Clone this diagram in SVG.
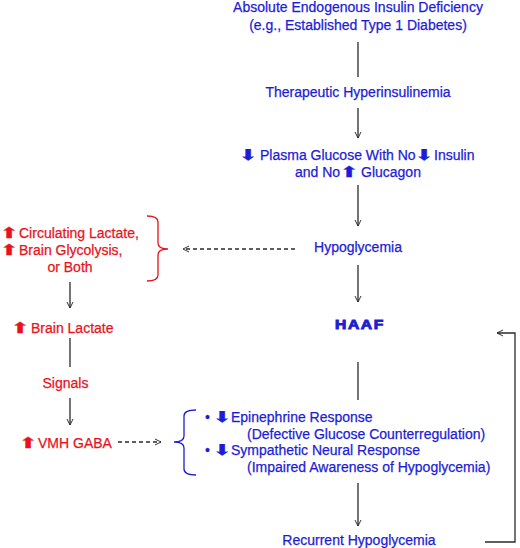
<svg xmlns="http://www.w3.org/2000/svg" width="520" height="548" viewBox="0 0 520 548">
<style>
text{font-family:"Liberation Sans",Arial,sans-serif;font-size:14px}
.b{fill:#1d1dd6;stroke:#1d1dd6;stroke-width:0.25}
.r{fill:#e8121c;stroke:#e8121c;stroke-width:0.25}
.ar{font-family:"DejaVu Sans",sans-serif;font-size:15px;stroke-width:0.4}
.c{text-anchor:middle}
.haaf{font-weight:bold;font-size:12.5px;stroke-width:0.9;letter-spacing:1.3px}
.ln{stroke:#2a2a2a;stroke-width:1.3;fill:none}
.dash{stroke-dasharray:4,3}
.ah{marker-end:url(#arr)}
.brr{stroke:#e8121c;stroke-width:1.3;fill:none}
.brb{stroke:#1d1dd6;stroke-width:1.3;fill:none}
</style>
<defs>
<marker id="arr" viewBox="0 0 10 10" refX="10" refY="5" markerWidth="6" markerHeight="9" markerUnits="userSpaceOnUse" orient="auto">
<path d="M0,0 L10,5 L0,10" fill="none" stroke="#2a2a2a" stroke-width="1.6"/>
</marker>
</defs>
<rect width="520" height="548" fill="#fff"/>
<g id="connectors">
<line class="ln" x1="358" y1="42" x2="358" y2="77"/>
<line class="ln ah" x1="358" y1="108" x2="358" y2="138"/>
<line class="ln ah" x1="358" y1="185" x2="358" y2="226"/>
<line class="ln ah" x1="358" y1="265" x2="358" y2="302"/>
<line class="ln" x1="358" y1="362" x2="358" y2="400"/>
<line class="ln ah" x1="358" y1="483" x2="358" y2="526"/>
<polyline class="ln ah" points="485,542 515,542 515,333 497,333"/>
<line class="ln dash ah" x1="295" y1="249" x2="183" y2="249"/>
<line class="ln dash ah" x1="118" y1="442" x2="161" y2="442"/>
<line class="ln ah" x1="70" y1="282" x2="70" y2="308"/>
<line class="ln" x1="70" y1="338" x2="70" y2="367"/>
<line class="ln ah" x1="70" y1="398" x2="70" y2="425"/>
</g>
<g id="n-absolute">
<text class="b c" x="358" y="11.5">Absolute Endogenous Insulin Deficiency</text>
<text class="b c" x="358" y="30">(e.g., Established Type 1 Diabetes)</text>
</g>
<g id="n-therapeutic">
<text class="b c" x="358" y="97">Therapeutic Hyperinsulinemia</text>
</g>
<g id="n-plasma">
<text class="b ar" transform="translate(239,160) scale(1.45,1)">⬇</text>
<text class="b" x="260" y="160">Plasma Glucose With No</text>
<text class="b ar" transform="translate(415,160) scale(1.45,1)">⬇</text>
<text class="b" x="434" y="160">Insulin</text>
<text class="b" x="295" y="177">and No</text>
<text class="b ar" transform="translate(340,177) scale(1.45,1)">⬆</text>
<text class="b" x="361" y="177">Glucagon</text>
</g>
<g id="n-hypo">
<text class="b c" x="358" y="252">Hypoglycemia</text>
</g>
<g id="n-haaf">
<text class="b haaf" transform="translate(335,329) scale(1.25,1)">HAAF</text>
</g>
<g id="n-responses">
<path class="brb" d="M196,410 Q184,410 184,416 V436 Q184,442 174,442 Q184,442 184,448 V469 Q184,475 196,475"/>
<text class="b" x="205" y="422">•</text>
<text class="b ar" transform="translate(213,422) scale(1.45,1)">⬇</text>
<text class="b" x="231" y="422">Epinephrine Response</text>
<text class="b" x="247" y="438.5">(Defective Glucose Counterregulation)</text>
<text class="b" x="205" y="455">•</text>
<text class="b ar" transform="translate(213,455) scale(1.45,1)">⬇</text>
<text class="b" x="231" y="455">Sympathetic Neural Response</text>
<text class="b" x="247" y="472">(Impaired Awareness of Hypoglycemia)</text>
</g>
<g id="n-recurrent">
<text class="b c" x="359" y="545">Recurrent Hypoglycemia</text>
</g>
<g id="n-lactate">
<path class="brr" d="M147,216 Q158,216 158,222 V243 Q158,249 168,249 Q158,249 158,255 V275 Q158,281 147,281"/>
<text class="r ar" transform="translate(0,238) scale(1.45,1)">⬆</text>
<text class="r" x="19" y="238">Circulating Lactate,</text>
<text class="r ar" transform="translate(0,255) scale(1.45,1)">⬆</text>
<text class="r" x="19" y="255">Brain Glycolysis,</text>
<text class="r c" x="70" y="271.5">or Both</text>
</g>
<g id="n-brainlactate">
<text class="r ar" transform="translate(11,333) scale(1.45,1)">⬆</text>
<text class="r" x="31" y="333">Brain Lactate</text>
</g>
<g id="n-signals">
<text class="r c" x="65.5" y="387.5">Signals</text>
</g>
<g id="n-vmh">
<text class="r ar" transform="translate(19,448) scale(1.45,1)">⬆</text>
<text class="r" x="38" y="448">VMH GABA</text>
</g>
</svg>
